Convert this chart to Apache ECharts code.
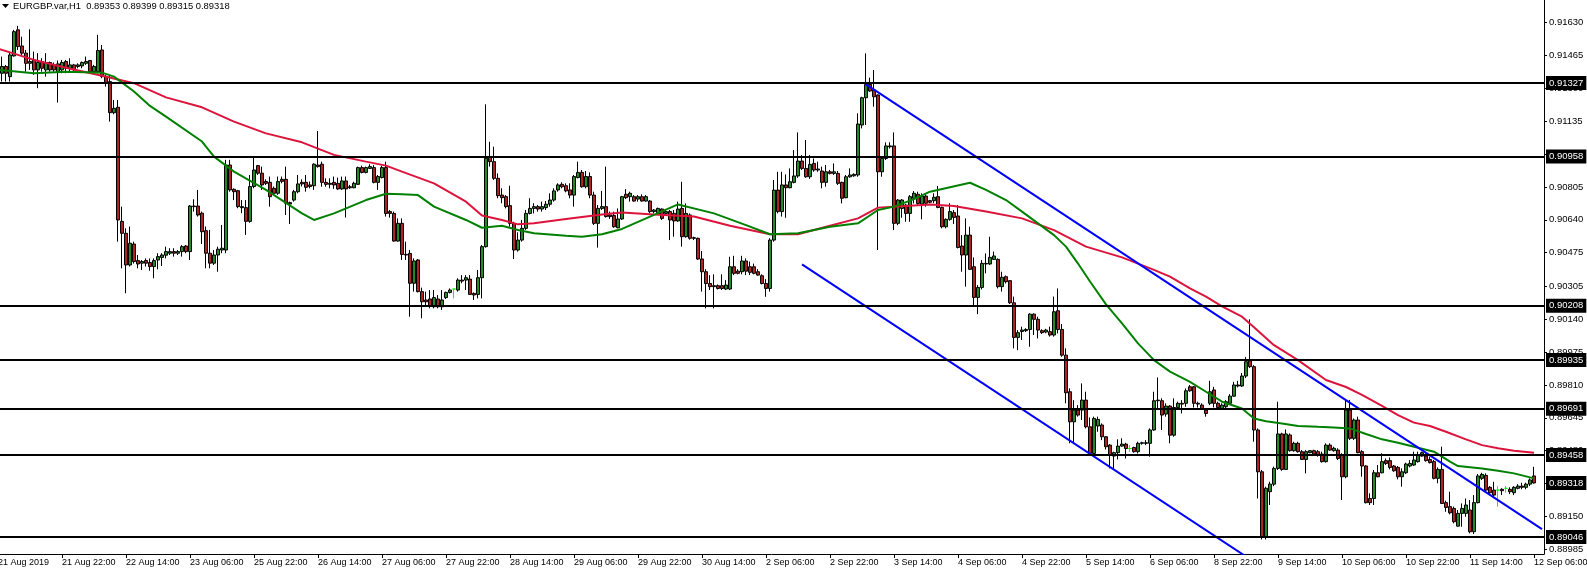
<!DOCTYPE html>
<html><head><meta charset="utf-8">
<script src="https://cdn.jsdelivr.net/npm/echarts@6/dist/echarts.min.js"></script>
<style>html,body{margin:0;padding:0;background:#fff}#c{width:1587px;height:571px}</style>
</head><body><div id="c"></div>
<script>
// ---- DATA (hourly bars, index = bar number counted from 21 Aug 2019 06:00) ----
const symbolTitle = "EURGBP.var,H1";
const xTickLabels = ["21 Aug 2019","21 Aug 22:00","22 Aug 14:00","23 Aug 06:00","25 Aug 22:00","26 Aug 14:00","27 Aug 06:00","27 Aug 22:00","28 Aug 14:00","29 Aug 06:00","29 Aug 22:00","30 Aug 14:00","2 Sep 06:00","2 Sep 22:00","3 Sep 14:00","4 Sep 06:00","4 Sep 22:00","5 Sep 14:00","6 Sep 06:00","8 Sep 22:00","9 Sep 14:00","10 Sep 06:00","10 Sep 22:00","11 Sep 14:00","12 Sep 06:00"];
const yTickValues = [0.91630,0.91465,0.91300,0.91135,0.90970,0.90805,0.90640,0.90475,0.90305,0.90140,0.89975,0.89810,0.89645,0.89480,0.89315,0.89150,0.88985];
const levelPrices = [0.91327,0.90958,0.90208,0.89935,0.89691,0.89458,0.89046];
const currentPrice = 0.89318;

// bars 1..384
const opens = [
.91376,.91410,.91359,.91463,.91594,.91513,.91477,.91426,.91443,.91393,
.91435,.91393,.91430,.91418,.91384,.91393,.91435,.91401,.91418,.91410,
.91413,.91426,.91440,.91384,.91384,.91493,.91359,.91334,.91178,.91205,
.90632,.90572,.90413,.90518,.90435,.90422,.90435,.90425,.90405,.90438,
.90451,.90462,.90472,.90480,.90472,.90480,.90508,.90480,.90709,.90709,
.90673,.90585,.90472,.90422,.90463,.90488,.90488,.90915,.90793,.90786,
.90706,.90701,.90632,.90807,.90912,.90874,.90832,.90828,.90798,.90773,
.90843,.90843,.90726,.90739,.90781,.90828,.90828,.90815,.90811,.90915,
.90919,.90828,.90818,.90828,.90823,.90795,.90835,.90801,.90801,.90818,
.90902,.90878,.90898,.90902,.90828,.90852,.90902,.90681,.90672,.90533,
.90622,.90466,.90471,.90321,.90438,.90279,.90237,.90242,.90203,.90242,
.90203,.90249,.90275,.90292,.90287,.90337,.90337,.90342,.90270,.90265,
.90349,.90505,.90957,.90932,.90848,.90764,.90756,.90711,.90622,.90488,
.90538,.90597,.90672,.90697,.90706,.90694,.90701,.90718,.90739,.90790,
.90818,.90811,.90790,.90764,.90852,.90878,.90806,.90857,.90764,.90622,
.90697,.90706,.90664,.90661,.90600,.90644,.90768,.90756,.90756,.90744,
.90756,.90734,.90734,.90681,.90667,.90694,.90672,.90681,.90672,.90634,
.90697,.90555,.90664,.90547,.90547,.90443,.90379,.90320,.90304,.90309,
.90309,.90292,.90292,.90404,.90382,.90379,.90433,.90404,.90404,.90379,
.90359,.90320,.90295,.90538,.90789,.90681,.90815,.90801,.90828,.90860,
.90935,.90898,.90856,.90923,.90890,.90885,.90828,.90881,.90873,.90873,
.90828,.90751,.90856,.90861,.90865,.91116,.91253,.91320,.91292,.91267,
.90881,.90948,.91011,.91011,.90622,.90697,.90714,.90672,.90748,.90768,
.90719,.90759,.90736,.90736,.90756,.90702,.90605,.90642,.90676,.90659,
.90508,.90463,.90563,.90404,.90250,.90300,.90418,.90418,.90441,.90441,
.90304,.90354,.90334,.90223,.90049,.90079,.90083,.90089,.90166,.90140,
.90083,.90076,.90078,.90061,.90183,.90089,.89960,.89776,.89625,.89684,
.89684,.89734,.89600,.89466,.89604,.89609,.89550,.89508,.89453,.89470,
.89503,.89513,.89491,.89496,.89475,.89517,.89517,.89517,.89584,.89731,
.89731,.89664,.89704,.89558,.89697,.89714,.89718,.89801,.89801,.89718,
.89709,.89684,.89718,.89785,.89718,.89692,.89701,.89718,.89754,.89810,
.89805,.89855,.89932,.89902,.89584,.89374,.89048,.89274,.89312,.89391,
.89564,.89386,.89559,.89480,.89517,.89475,.89436,.89470,.89480,.89475,
.89463,.89425,.89508,.89480,.89483,.89458,.89349,.89684,.89542,.89634,
.89475,.89403,.89240,.89240,.89369,.89369,.89430,.89430,.89403,.89396,
.89349,.89369,.89403,.89408,.89425,.89453,.89453,.89436,.89425,.89341,
.89386,.89219,.89199,.89190,.89101,.89165,.89165,.89182,.89073,.89219,
.89341,.89356,.89296,.89282,.89282,.89286,.89291,.89286,.89269,.89291,
.89302,.89296,.89312,.89353];
const highs = [
.91460,.91418,.91485,.91594,.91614,.91560,.91493,.91597,.91485,.91477,
.91451,.91477,.91435,.91430,.91440,.91443,.91443,.91451,.91423,.91426,
.91435,.91460,.91443,.91418,.91569,.91518,.91368,.91368,.91242,.91242,
.90706,.90597,.90606,.90530,.90463,.90438,.90446,.90446,.90446,.90472,
.90472,.90505,.90497,.90497,.90488,.90513,.90513,.90714,.90743,.90790,
.90681,.90606,.90589,.90488,.90505,.90614,.90941,.90941,.90798,.90790,
.90739,.90739,.90865,.90954,.90915,.90907,.90843,.90857,.90807,.90857,
.90857,.90907,.90731,.90790,.90865,.90843,.90865,.90832,.90924,.91086,
.90932,.90848,.90848,.90857,.90852,.90857,.90857,.90815,.90831,.90907,
.90912,.90907,.90919,.90915,.90865,.90912,.90932,.90689,.90681,.90647,
.90647,.90530,.90488,.90446,.90443,.90299,.90279,.90287,.90287,.90262,
.90287,.90279,.90295,.90292,.90346,.90362,.90362,.90362,.90275,.90388,
.90513,.91220,.91032,.91007,.90873,.90798,.90764,.90811,.90630,.90577,
.90639,.90689,.90748,.90723,.90714,.90731,.90734,.90773,.90798,.90823,
.90828,.90823,.90823,.90865,.90932,.90890,.90885,.90878,.90781,.90714,
.90785,.90907,.90681,.90681,.90697,.90760,.90794,.90781,.90764,.90764,
.90768,.90764,.90739,.90694,.90701,.90697,.90689,.90689,.90689,.90731,
.90831,.90722,.90672,.90555,.90550,.90483,.90392,.90362,.90366,.90315,
.90366,.90337,.90454,.90459,.90392,.90459,.90446,.90430,.90420,.90392,
.90366,.90342,.90547,.90840,.90881,.90881,.90868,.90898,.90990,.91079,
.90965,.91041,.90965,.90948,.90932,.90907,.90915,.90890,.90923,.90885,
.90831,.90865,.90898,.90873,.91175,.91258,.91476,.91354,.91392,.91270,
.90956,.91029,.91029,.91079,.90744,.90744,.90720,.90764,.90784,.90781,
.90773,.90773,.90740,.90773,.90810,.90706,.90647,.90723,.90689,.90714,
.90563,.90647,.90605,.90451,.90312,.90438,.90471,.90555,.90480,.90446,
.90379,.90360,.90337,.90254,.90086,.90103,.90095,.90170,.90170,.90153,
.90090,.90092,.90103,.90254,.90295,.90116,.89994,.89793,.89734,.89709,
.89818,.89776,.89647,.89651,.89651,.89617,.89553,.89513,.89475,.89537,
.89542,.89520,.89508,.89500,.89525,.89525,.89533,.89592,.89776,.89848,
.89743,.89718,.89709,.89743,.89726,.89734,.89793,.89810,.89805,.89726,
.89718,.89687,.89831,.89801,.89726,.89718,.89734,.89764,.89826,.89831,
.89870,.89950,.90140,.89910,.89592,.89383,.89299,.89324,.89400,.89726,
.89570,.89587,.89567,.89525,.89525,.89483,.89483,.89483,.89485,.89483,
.89475,.89517,.89517,.89500,.89492,.89467,.89735,.89735,.89642,.89651,
.89483,.89408,.89266,.89383,.89408,.89467,.89441,.89446,.89408,.89403,
.89391,.89420,.89433,.89475,.89475,.89475,.89467,.89450,.89433,.89396,
.89500,.89229,.89274,.89199,.89182,.89215,.89240,.89232,.89257,.89363,
.89369,.89366,.89302,.89324,.89302,.89291,.89302,.89296,.89302,.89312,
.89319,.89319,.89341,.89399];
const lows = [
.91334,.91334,.91334,.91460,.91493,.91468,.91384,.91393,.91368,.91301,
.91384,.91359,.91384,.91384,.91229,.91376,.91376,.91384,.91384,.91401,
.91401,.91418,.91376,.91376,.91376,.91351,.91309,.91133,.91170,.90530,
.90396,.90271,.90405,.90420,.90396,.90388,.90405,.90384,.90346,.90391,
.90408,.90446,.90463,.90455,.90463,.90455,.90472,.90438,.90681,.90656,
.90518,.90396,.90396,.90413,.90379,.90472,.90472,.90781,.90739,.90698,
.90673,.90564,.90625,.90798,.90865,.90790,.90815,.90706,.90765,.90765,
.90823,.90664,.90619,.90731,.90773,.90807,.90781,.90798,.90790,.90902,
.90806,.90806,.90798,.90795,.90790,.90790,.90651,.90795,.90798,.90815,
.90873,.90873,.90895,.90823,.90790,.90848,.90656,.90651,.90530,.90530,
.90438,.90438,.90153,.90279,.90275,.90145,.90212,.90195,.90195,.90195,
.90187,.90242,.90270,.90245,.90279,.90321,.90287,.90262,.90237,.90245,
.90245,.90500,.90907,.90840,.90748,.90723,.90697,.90605,.90443,.90480,
.90530,.90589,.90667,.90672,.90681,.90681,.90689,.90706,.90731,.90781,
.90798,.90778,.90748,.90706,.90848,.90801,.90798,.90748,.90614,.90500,
.90689,.90651,.90644,.90600,.90597,.90639,.90744,.90731,.90731,.90731,
.90731,.90731,.90672,.90672,.90664,.90639,.90664,.90538,.90555,.90630,
.90505,.90550,.90540,.90538,.90438,.90279,.90195,.90287,.90195,.90290,
.90287,.90287,.90287,.90362,.90366,.90366,.90362,.90362,.90366,.90359,
.90315,.90253,.90279,.90530,.90672,.90656,.90650,.90798,.90823,.90851,
.90890,.90851,.90845,.90881,.90881,.90798,.90806,.90868,.90865,.90815,
.90722,.90748,.90851,.90856,.90856,.91099,.91116,.91283,.91208,.90488,
.90856,.90940,.90998,.90588,.90613,.90650,.90630,.90630,.90722,.90714,
.90642,.90706,.90723,.90723,.90698,.90597,.90597,.90635,.90619,.90496,
.90379,.90304,.90388,.90207,.90166,.90290,.90371,.90413,.90438,.90295,
.90279,.90320,.90217,.89994,.89985,.90036,.90076,.90002,.90061,.90044,
.90066,.90070,.90053,.90053,.90069,.89952,.89718,.89517,.89513,.89651,
.89634,.89592,.89458,.89458,.89575,.89533,.89486,.89391,.89391,.89436,
.89500,.89441,.89475,.89470,.89466,.89510,.89508,.89450,.89580,.89684,
.89584,.89651,.89517,.89550,.89687,.89667,.89701,.89776,.89697,.89697,
.89684,.89651,.89709,.89697,.89690,.89687,.89692,.89714,.89751,.89798,
.89800,.89845,.89895,.89525,.89240,.89034,.89034,.89207,.89302,.89383,
.89379,.89383,.89475,.89475,.89470,.89433,.89366,.89467,.89458,.89450,
.89420,.89420,.89480,.89475,.89433,.89232,.89341,.89534,.89534,.89467,
.89349,.89215,.89207,.89207,.89346,.89366,.89408,.89386,.89374,.89336,
.89299,.89363,.89396,.89403,.89420,.89450,.89425,.89416,.89336,.89316,
.89212,.89173,.89160,.89115,.89098,.89098,.89148,.89065,.89061,.89215,
.89333,.89274,.89262,.89249,.89199,.89257,.89269,.89262,.89257,.89286,
.89286,.89286,.89302,.89315];
const closes = [
.91410,.91376,.91468,.91585,.91510,.91477,.91426,.91435,.91393,.91430,
.91401,.91430,.91393,.91393,.91423,.91430,.91401,.91418,.91393,.91418,
.91430,.91435,.91384,.91410,.91490,.91359,.91326,.91178,.91200,.90639,
.90572,.90413,.90522,.90430,.90418,.90430,.90422,.90405,.90435,.90455,
.90463,.90480,.90480,.90472,.90480,.90505,.90480,.90709,.90706,.90664,
.90580,.90472,.90422,.90463,.90492,.90497,.90915,.90790,.90781,.90706,
.90701,.90632,.90807,.90890,.90874,.90815,.90823,.90756,.90773,.90832,
.90833,.90723,.90719,.90781,.90820,.90820,.90803,.90807,.90919,.90907,
.90828,.90818,.90823,.90815,.90795,.90835,.90795,.90806,.90823,.90902,
.90878,.90902,.90907,.90828,.90857,.90902,.90672,.90672,.90533,.90622,
.90466,.90463,.90321,.90433,.90279,.90228,.90228,.90208,.90249,.90203,
.90237,.90275,.90287,.90292,.90337,.90332,.90349,.90265,.90262,.90349,
.90505,.90949,.90932,.90848,.90761,.90751,.90706,.90622,.90488,.90538,
.90597,.90672,.90697,.90706,.90694,.90706,.90718,.90739,.90785,.90815,
.90806,.90785,.90764,.90857,.90878,.90806,.90857,.90764,.90622,.90697,
.90706,.90656,.90656,.90605,.90644,.90756,.90751,.90773,.90734,.90756,
.90734,.90756,.90681,.90689,.90697,.90647,.90681,.90639,.90634,.90694,
.90555,.90672,.90547,.90550,.90443,.90379,.90320,.90304,.90309,.90295,
.90295,.90312,.90404,.90371,.90371,.90433,.90382,.90376,.90371,.90362,
.90320,.90295,.90538,.90789,.90681,.90815,.90801,.90831,.90860,.90935,
.90898,.90856,.90918,.90890,.90895,.90828,.90881,.90873,.90881,.90823,
.90748,.90856,.90865,.90868,.91121,.91253,.91320,.91287,.91258,.90881,
.90948,.91011,.91007,.90622,.90739,.90739,.90672,.90756,.90773,.90722,
.90759,.90723,.90728,.90753,.90702,.90605,.90642,.90681,.90652,.90501,
.90463,.90563,.90391,.90250,.90300,.90421,.90421,.90451,.90458,.90304,
.90351,.90329,.90223,.90049,.90073,.90086,.90089,.90166,.90140,.90086,
.90073,.90086,.90061,.90178,.90089,.89960,.89771,.89625,.89684,.89659,
.89734,.89600,.89466,.89642,.89637,.89550,.89500,.89458,.89470,.89503,
.89513,.89491,.89491,.89475,.89517,.89520,.89520,.89584,.89731,.89734,
.89659,.89704,.89558,.89697,.89718,.89718,.89781,.89781,.89718,.89714,
.89687,.89667,.89776,.89718,.89697,.89709,.89726,.89754,.89810,.89805,
.89855,.89927,.89902,.89584,.89374,.89048,.89291,.89312,.89391,.89564,
.89386,.89564,.89480,.89517,.89475,.89436,.89475,.89480,.89463,.89458,
.89425,.89508,.89483,.89492,.89441,.89349,.89684,.89542,.89634,.89470,
.89403,.89219,.89219,.89369,.89349,.89425,.89416,.89396,.89379,.89349,
.89374,.89413,.89416,.89433,.89458,.89470,.89430,.89420,.89341,.89386,
.89215,.89195,.89168,.89123,.89165,.89190,.89207,.89073,.89219,.89353,
.89361,.89282,.89269,.89257,.89282,.89279,.89291,.89274,.89296,.89302,
.89296,.89312,.89333,.89318];

// moving averages: [bar, price]
const redMA = [[0,.91500],[9,.91443],[17,.91404],[26,.91363],[34,.91326],[42,.91255],[51,.91205],[59,.91133],[67,.91074],[76,.91029],[84,.90966],[92,.90932],[97,.90912],[101,.90882],[109,.90823],[117,.90731],[121,.90661],[126,.90639],[130,.90617],[134,.90622],[142,.90644],[151,.90667],[156,.90677],[164,.90667],[174,.90656],[183,.90610],[193,.90567],[200,.90567],[208,.90610],[215,.90647],[220,.90701],[224,.90706],[233,.90717],[239,.90709],[247,.90681],[256,.90647],[264,.90588],[272,.90505],[281,.90451],[289,.90388],[293,.90354],[298,.90295],[302,.90254],[306,.90205],[311,.90153],[314,.90100],[319,.90010],[325,.89935],[332,.89835],[337,.89800],[341,.89760],[346,.89705],[350,.89659],[354,.89621],[358,.89604],[362,.89575],[367,.89537],[371,.89508],[375,.89492],[379,.89480],[384,.89470]];
const greenMA = [[0,.91393],[9,.91376],[17,.91384],[26,.91379],[29,.91359],[34,.91284],[38,.91212],[42,.91158],[51,.91033],[54,.90957],[59,.90882],[67,.90790],[76,.90672],[79,.90639],[84,.90672],[92,.90739],[97,.90771],[101,.90768],[105,.90764],[109,.90706],[117,.90639],[121,.90600],[126,.90610],[130,.90589],[134,.90572],[142,.90560],[146,.90555],[151,.90567],[156,.90594],[162,.90647],[170,.90717],[179,.90672],[187,.90613],[193,.90567],[200,.90572],[208,.90605],[215,.90622],[220,.90689],[224,.90706],[229,.90744],[233,.90781],[243,.90826],[247,.90790],[252,.90739],[256,.90681],[260,.90622],[264,.90563],[267,.90505],[270,.90420],[273,.90330],[277,.90215],[281,.90120],[285,.90019],[289,.89935],[293,.89877],[298,.89826],[302,.89776],[306,.89726],[311,.89692],[314,.89642],[317,.89628],[321,.89617],[325,.89604],[330,.89600],[334,.89597],[338,.89592],[342,.89564],[346,.89537],[350,.89520],[354,.89500],[359,.89475],[363,.89425],[365,.89403],[371,.89391],[375,.89379],[379,.89366],[384,.89341]];

// channel trendlines: [bar, price] end points
const trendUpper = [[217,.91320],[386,.89086]];
const trendLower = [[201,.90416],[386,.87970]];

// ---- BUILD ----
const NCAT = 387;
const cats = Array.from({length:NCAT},(_,i)=>String(i));
const FONT = '"Liberation Sans", Arial, sans-serif';
const LIME = '#00ff00';
const candleData = ['-'];
for (let i=0;i<opens.length;i++){
  const v=[opens[i],closes[i],lows[i],highs[i]];
  if (opens[i]===closes[i]) candleData.push({value:v,itemStyle:{color:LIME,color0:LIME,borderColor:LIME,borderColor0:LIME,borderColorDoji:LIME}});
  else candleData.push(v);
}
const n=opens.length-1;
const title = symbolTitle+'  '+[opens[n],highs[n],lows[n],closes[n]].map(v=>v.toFixed(5)).join(' ');

const chart = echarts.init(document.getElementById('c'),null,{renderer:'canvas'});
chart.setOption({
  animation:false,
  backgroundColor:'#ffffff',
  grid:{left:-4,right:43,top:0,bottom:17,containLabel:false,outerBoundsMode:'none'},
  xAxis:{type:'category',data:cats,boundaryGap:true,
    axisLine:{show:true,lineStyle:{color:'#000',width:1}},
    axisTick:{show:true,alignWithLabel:true,interval:(i)=>i>0&&i%16===0,length:4,lineStyle:{color:'#000'}},
    axisLabel:{show:true,interval:(i)=>i%16===0,formatter:(v,i)=>xTickLabels[Math.round(i/16)]||'',align:'left',
      color:'#000',fontSize:9,fontFamily:FONT,margin:4,padding:0},
    splitLine:{show:false}},
  yAxis:{type:'value',position:'right',min:0.88961,max:0.91744,
    axisLine:{show:true,lineStyle:{color:'#000',width:1}},
    axisTick:{show:true,customValues:yTickValues,length:3,lineStyle:{color:'#000'}},
    axisLabel:{show:true,customValues:yTickValues,formatter:(v)=>v.toFixed(5),color:'#000',fontSize:9.5,fontFamily:FONT,margin:5},
    splitLine:{show:false}},
  graphic:[
    {type:'polygon',shape:{points:[[2,4],[9,4],[5.5,8]]},style:{fill:'#000'}},
    {type:'text',left:13,top:2,style:{text:title,fill:'#000',fontSize:9.4,fontFamily:FONT}}
  ],
  series:[
    {type:'candlestick',data:candleData,barWidth:3,
      itemStyle:{color:'#228b22',color0:'#b22222',borderColor:'#000',borderColor0:'#000',borderColorDoji:'#000',borderWidth:1},
      markLine:{silent:true,animation:false,symbol:['none','none'],precision:5,
        lineStyle:{color:'#000',width:2,type:'solid'},
        label:{show:true,position:'end',distance:2,formatter:(p)=>Number(p.value).toFixed(5),
          backgroundColor:'#000',color:'#fff',padding:[2,3,2,3],fontSize:9.5,fontFamily:FONT},
        data:levelPrices.map(v=>({yAxis:v})).concat([{yAxis:currentPrice,lineStyle:{color:'rgba(0,0,0,0)',width:0}}])},
      z:2},
    {type:'line',data:redMA,symbol:'none',showSymbol:false,lineStyle:{color:'#dc143c',width:2},z:3,silent:true},
    {type:'line',data:greenMA,symbol:'none',showSymbol:false,lineStyle:{color:'#008000',width:2},z:3,silent:true},
    {type:'line',data:trendUpper,symbol:'none',showSymbol:false,lineStyle:{color:'#0000ff',width:2},z:4,silent:true,clip:true},
    {type:'line',data:trendLower,symbol:'none',showSymbol:false,lineStyle:{color:'#0000ff',width:2},z:4,silent:true,clip:true}
  ]
});
</script></body></html>
